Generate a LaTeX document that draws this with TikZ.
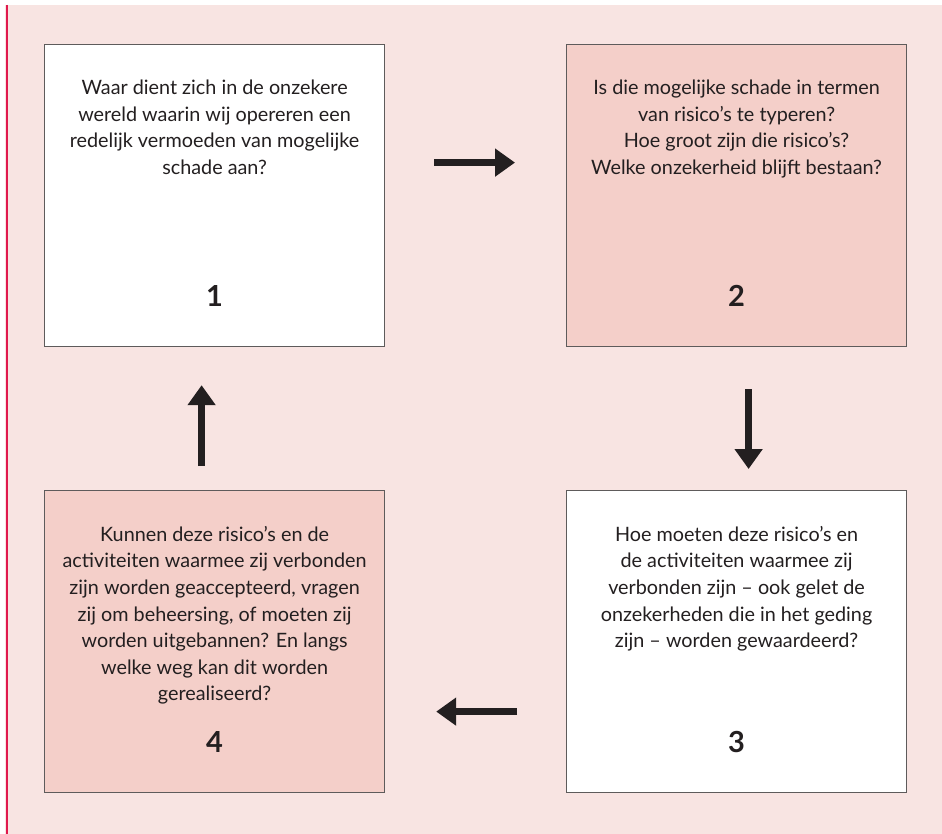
\documentclass[tikz,border=0pt]{standalone}
\usepackage{fontspec}
\setmainfont{Lato}
\usetikzlibrary{arrows.meta, positioning}

\definecolor{bgpink}{HTML}{F8E4E2}
\definecolor{boxpink}{HTML}{F4CFC9}
\definecolor{edgered}{HTML}{E0184D}
\definecolor{inkgray}{HTML}{231F20}
\definecolor{framegray}{HTML}{5E5B5B}

\begin{document}
\begin{tikzpicture}[x=1pt, y=-1pt,
    stage/.style={draw=framegray, line width=1.2pt, minimum width=340pt, minimum height=302pt, anchor=north west, inner sep=0pt},
    question/.style={anchor=north, align=center, text=inkgray, inner sep=0pt, font=\fontsize{19.8}{26.6}\selectfont},
    number/.style={anchor=base, text=inkgray, font=\fontsize{29}{30}\selectfont\bfseries},
    flow/.style={-{Triangle[length=20pt, width=27pt]}, line width=7pt, draw=inkgray}]

    % page and pink panel with the red rule on the left
    \useasboundingbox (0,0) rectangle (942,834);
    \fill[white] (0,0) rectangle (942,834);
    \fill[bgpink] (5,5) rectangle (942,834);
    \draw[edgered, line width=2pt] (6.5,5) -- (6.5,834);

    % the four stages of the cycle
    \node[stage, fill=white] (b1) at (44,44) {};
    \node[stage, fill=boxpink] (b2) at (566,44) {};
    \node[stage, fill=white] (b3) at (566,490) {};
    \node[stage, fill=boxpink] (b4) at (44,490) {};

    % questions
    \node[question] (q1) at ([yshift=-36pt]b1.north) {Waar dient zich in de onzekere\\wereld waarin wij opereren een\\redelijk vermoeden van mogelijke\\schade aan?};
    \node[question] (q2) at ([yshift=-36pt]b2.north) {Is die mogelijke schade in termen\\van risico’s te typeren?\\Hoe groot zijn die risico’s?\\Welke onzekerheid blijft bestaan?};
    \node[question] (q3) at ([yshift=-36pt]b3.north) {Hoe moeten deze risico’s en\\de activiteiten waarmee zij\\verbonden zijn – ook gelet de\\onzekerheden die in het geding\\zijn – worden gewaardeerd?};
    \node[question] (q4) at ([yshift=-36pt]b4.north) {Kunnen deze risico’s en de\\activiteiten waarmee zij verbonden\\zijn worden geaccepteerd, vragen\\zij om beheersing, of moeten zij\\worden uitgebannen? En langs\\welke weg kan dit worden\\gerealiseerd?};

    % numbers
    \node[number] (n1) at ([yshift=41pt]b1.south) {1};
    \node[number] (n2) at ([yshift=41pt]b2.south) {2};
    \node[number] (n3) at ([yshift=41pt]b3.south) {3};
    \node[number] (n4) at ([yshift=41pt]b4.south) {4};

    % arrows round the cycle
    \draw[flow, shorten <=49pt, shorten >=51pt] ([yshift=33pt]b1.east) -- ([yshift=33pt]b2.west);
    \draw[flow, shorten <=42pt, shorten >=21pt] ([xshift=12pt]b2.south) -- ([xshift=12pt]b3.north);
    \draw[flow, shorten <=49pt, shorten >=51pt] ([yshift=-70pt]b3.west) -- ([yshift=-70pt]b4.east);
    \draw[flow, shorten <=24pt, shorten >=38pt] ([xshift=-13pt]b4.north) -- ([xshift=-13pt]b1.south);

\end{tikzpicture}
\end{document}
